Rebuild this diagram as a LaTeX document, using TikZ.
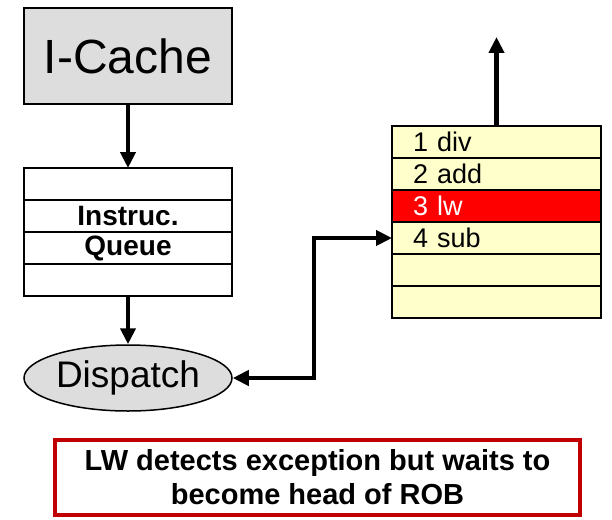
\documentclass[tikz,border=0pt]{standalone}
\usepackage{fontspec}
\setmainfont{Liberation Sans}
\usetikzlibrary{positioning,shapes.geometric,arrows.meta}
\definecolor{cachegray}{HTML}{DDDDDD}
\definecolor{robyellow}{HTML}{FFFFCC}
\definecolor{notered}{HTML}{C00000}

\begin{document}
\begin{tikzpicture}[x=1pt,y=-1pt,
  flow/.style={line width=4.5pt,-{Triangle[length=16pt,width=15pt]}},
  cache node/.style={rectangle,draw,line width=1.5pt,fill=cachegray,minimum width=208pt,minimum height=96pt,inner sep=0pt,font=\fontsize{48}{52}\selectfont},
  queue row/.style={rectangle,draw,line width=1.5pt,fill=white,minimum width=208pt,minimum height=32pt,inner sep=0pt,outer sep=0pt,font=\fontsize{28}{32}\selectfont\bfseries},
  rob row/.style={rectangle,draw,line width=1.5pt,fill=robyellow,text width=167pt,align=left,inner xsep=21pt,inner ysep=0pt,minimum height=32pt,outer sep=0pt,font=\fontsize{27}{30}\selectfont},
  note box/.style={rectangle,draw=notered,line width=4pt,minimum width=525pt,minimum height=75pt,align=center,font=\fontsize{29}{34}\selectfont\bfseries}]

  \useasboundingbox (0,0) rectangle (612,519);

  \node[cache node] (icache) at (128,56) {I-Cache};

  \node[queue row] (q1) at (128,184) {};
  \node[queue row] (q2) [below=0pt of q1] {Instruc.};
  \node[queue row] (q3) [below=0pt of q2] {Queue};
  \node[queue row] (q4) [below=0pt of q3] {};

  \node[ellipse,draw,line width=1.5pt,fill=cachegray,minimum width=208pt,minimum height=66pt,inner sep=0pt,
    font=\fontsize{37}{40}\selectfont] (dispatch) at (128,378) {Dispatch};

  \node[rob row] (rob1) at (496.5,142) {1 div};
  \node[rob row] (rob2) [below=0pt of rob1] {2 add};
  \node[rob row, fill=red, text=white] (rob3) [below=0pt of rob2] {3 lw};
  \node[rob row] (rob4) [below=0pt of rob3] {4 sub};
  \node[rob row] (rob5) [below=0pt of rob4] {\strut};
  \node[rob row] (rob6) [below=0pt of rob5] {\strut};
  \coordinate (commit) at (496.5,37);

  \node[note box] (note) at (317.5,477.5) {LW detects exception but waits to\\become head of ROB};

  \path[flow]
    (icache) edge (q1)
    (q4) edge (dispatch)
    (rob1) edge (commit);
  \draw[flow,{Triangle[length=16pt,width=15pt]}-{Triangle[length=16pt,width=15pt]}]
    (dispatch.east) -- ++(81,0) |- (rob4.west);
\end{tikzpicture}
\end{document}
